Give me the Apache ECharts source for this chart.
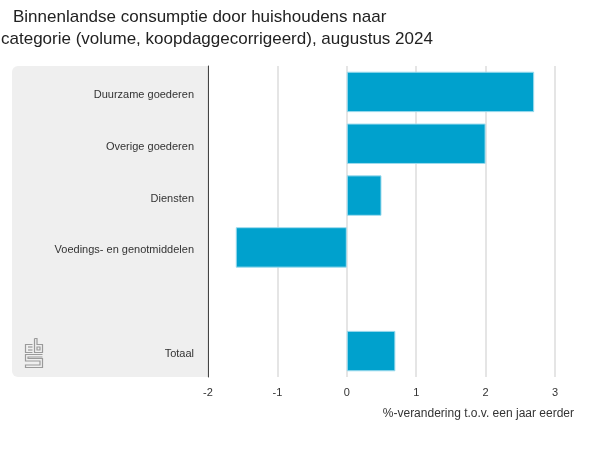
<!DOCTYPE html>
<html>
<head>
<meta charset="utf-8">
<script src="https://cdn.jsdelivr.net/npm/echarts@6/dist/echarts.min.js"></script>
<style>html,body{margin:0;padding:0;background:#fff}#c{width:600px;height:450px}</style>
</head>
<body>
<div id="c"></div>
<script>
var categories = ['Duurzame goederen', 'Overige goederen', 'Diensten', 'Voedings- en genotmiddelen', '', 'Totaal'];
var values = [2.7, 2.0, 0.5, -1.6, null, 0.7];
var xTicks = { min: -2, max: 3, interval: 1 };
var titleLines = ['Binnenlandse consumptie door huishoudens naar', 'categorie (volume, koopdaggecorrigeerd), augustus 2024'];
var axisTitle = '%-verandering t.o.v. een jaar eerder';

var FONT = '"Liberation Sans", Arial, sans-serif';
var chart = echarts.init(document.getElementById('c'), null, { renderer: 'canvas' });
var logoStroke = { stroke: '#9a9a9a', lineWidth: 1.2, fill: null };
chart.setOption({
  animation: false,
  grid: { left: 208, right: 45, top: 66, bottom: 73 },
  graphic: [
    { type: 'rect', z: -10, shape: { x: 12, y: 66, width: 196, height: 311, r: [6, 0, 0, 6] }, style: { fill: '#efefef' } },
    { type: 'text', left: 13, top: 9, style: { text: titleLines[0], font: '17px ' + FONT, fill: '#222' } },
    { type: 'text', left: 1, top: 31, style: { text: titleLines[1], font: '17px ' + FONT, fill: '#222' } },
    { type: 'text', right: 26, top: 408, style: { text: axisTitle, font: '12px ' + FONT, fill: '#333' } },
    { type: 'group', left: 23, top: 336, children: [
      { type: 'polyline', shape: { points: [[8, 6], [1, 6], [1, 14], [8, 14]] }, style: logoStroke },
      { type: 'polyline', shape: { points: [[3.5, 8.5], [8, 8.5]] }, style: logoStroke },
      { type: 'polyline', shape: { points: [[3.5, 11.5], [8, 11.5]] }, style: logoStroke },
      { type: 'polyline', shape: { points: [[10, 0], [10, 14], [18, 14], [18, 6], [12.5, 6], [12.5, 0], [10, 0]] }, style: logoStroke },
      { type: 'rect', shape: { x: 12.5, y: 8.5, width: 3, height: 3 }, style: logoStroke },
      { type: 'polyline', shape: { points: [[18, 16], [1, 16], [1, 22.5], [15.5, 22.5], [15.5, 26.5], [1, 26.5], [1, 29], [18, 29], [18, 20], [3.5, 20], [3.5, 18.5], [18, 18.5]] }, style: logoStroke }
    ]}
  ],
  xAxis: {
    type: 'value', min: xTicks.min, max: xTicks.max, interval: xTicks.interval,
    axisLine: { show: false }, axisTick: { show: false },
    splitLine: { lineStyle: { color: '#dcdcdc', width: 1.5 } },
    axisLabel: { fontFamily: FONT, fontSize: 11, color: '#333', margin: 10 }
  },
  yAxis: {
    type: 'category', data: categories, inverse: true,
    axisLine: { onZero: false, lineStyle: { color: '#444', width: 1 } },
    axisTick: { show: false },
    axisLabel: { fontFamily: FONT, fontSize: 11, color: '#333', margin: 14, verticalAlign: 'top', lineHeight: 6 }
  },
  series: [{
    type: 'bar', data: values, barCategoryGap: '22%',
    itemStyle: { color: '#00a1cd', borderColor: '#9fdcee', borderWidth: 1 }
  }]
});
</script>
</body>
</html>
